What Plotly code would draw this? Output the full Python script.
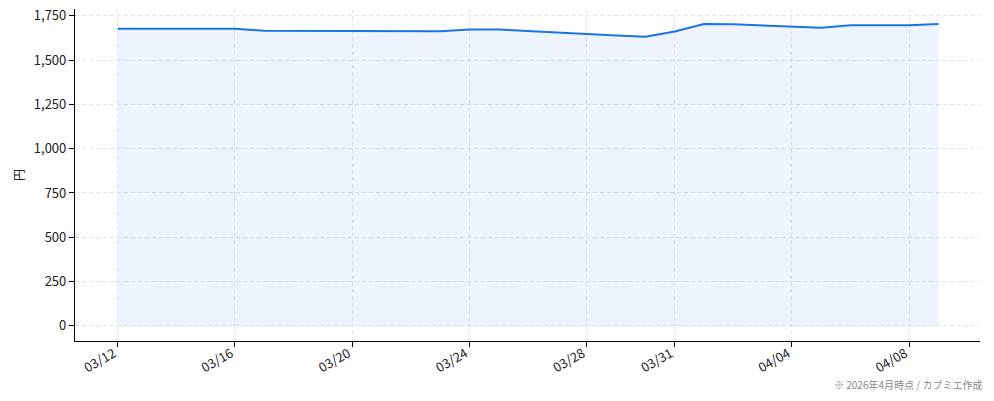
import pandas as pd
import plotly.graph_objects as go

# 株価の推移 (円)
dates = ["2026-03-12", "2026-03-16", "2026-03-17", "2026-03-23", "2026-03-24",
         "2026-03-25", "2026-03-29", "2026-03-30", "2026-03-31", "2026-04-01",
         "2026-04-02", "2026-04-05", "2026-04-06", "2026-04-08", "2026-04-09"]
prices = [1676, 1676, 1665, 1662, 1672,
          1672, 1639, 1632, 1661, 1703,
          1702, 1682, 1697, 1696, 1703]

tick_dates = ["2026-03-12", "2026-03-16", "2026-03-20", "2026-03-24",
              "2026-03-28", "2026-03-31", "2026-04-04", "2026-04-08"]
tick_labels = ["03/12", "03/16", "03/20", "03/24", "03/28", "03/31", "04/04", "04/08"]
y_ticks = [0, 250, 500, 750, 1000, 1250, 1500, 1750]

df = pd.DataFrame({"date": pd.to_datetime(dates), "price": prices})

fig = go.Figure()
fig.add_scatter(x=df["date"], y=df["price"], mode="lines",
                line=dict(color="#1a73e8", width=2),
                fill="tozeroy", fillcolor="rgba(26,115,232,0.08)",
                showlegend=False)

grid = dict(showgrid=True, gridcolor="#e2e2e8", griddash="4px,3px", gridwidth=1)
fig.update_xaxes(type="date", range=["2026-03-10 13:00", "2026-04-10 10:00"],
                 tickvals=pd.to_datetime(tick_dates), ticktext=tick_labels,
                 tickangle=-30, ticks="outside", ticklen=5, tickcolor="black",
                 ticklabelstandoff=-6, ticklabelshift=-4, ticklabeloverflow="allow",
                 showline=True, linecolor="black", linewidth=1.2,
                 zeroline=False, automargin=False, **grid)
fig.update_yaxes(range=[-85, 1788], tickvals=y_ticks, tickformat=",d",
                 ticks="outside", ticklen=5, tickcolor="black",
                 ticklabeloverflow="allow",
                 showline=True, linecolor="black", linewidth=1.2,
                 zeroline=False, automargin=False,
                 title=dict(text="円", standoff=6, font=dict(size=12)), **grid)

fig.add_annotation(text="※ 2026年4月時点 / カブミエ作成", xref="paper", yref="paper",
                   x=1.0044, y=-0.13, xanchor="right", yanchor="middle", showarrow=False,
                   font=dict(size=10, color="#888888"))

fig.update_layout(width=994, height=401, margin=dict(l=75, r=14, t=9, b=60),
                  plot_bgcolor="white", paper_bgcolor="white",
                  font=dict(family="Noto Sans CJK JP", size=13, color="#222222"))

# drop the page's default body margin so the figure sits at the top-left corner
fig.write_html("out.html", config={"displayModeBar": False},
               post_script="document.body.style.margin = '0';")
